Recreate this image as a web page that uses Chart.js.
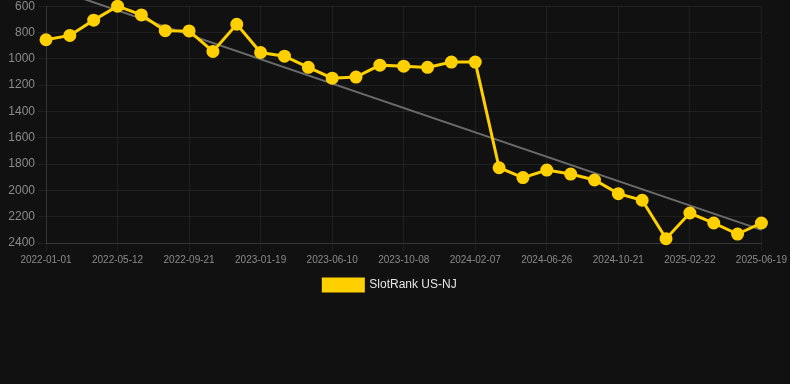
<!DOCTYPE html>
<html>
<head>
<meta charset="utf-8">
<script src="https://cdn.jsdelivr.net/npm/chart.js@4/dist/chart.umd.min.js"></script>
<style>
  html, body { margin: 0; padding: 0; background: #111111; overflow: hidden; }
  #wrap { position: relative; width: 790px; height: 305px; margin-top: -4px; }
</style>
</head>
<body>
<div id="wrap"><canvas id="c"></canvas></div>
<script>
const categories = [
  "2022-01-01","2022-02-14","2022-03-29","2022-05-12","2022-06-25","2022-08-08",
  "2022-09-21","2022-11-01","2022-12-10","2023-01-19","2023-03-06","2023-04-25",
  "2023-06-10","2023-07-20","2023-08-29","2023-10-08","2023-11-18","2023-12-28",
  "2024-02-07","2024-03-22","2024-05-05","2024-06-26","2024-08-03","2024-09-12",
  "2024-10-21","2024-12-01","2025-01-11","2025-02-22","2025-04-03","2025-05-12",
  "2025-06-19"
];
const rankValues = [
  855, 822, 706, 600, 666, 786, 788, 944, 737, 952, 980, 1065,
  1147, 1139, 1048, 1056, 1065, 1025, 1025, 1828, 1903, 1846, 1876, 1921,
  2025, 2075, 2367, 2172, 2248, 2332, 2248
];
// trend line endpoints (first and last category)
const trendValues = [447].concat(new Array(29).fill(null)).concat([2300]);
const yTicks = [600, 800, 1000, 1200, 1400, 1600, 1800, 2000, 2200, 2400];

const font = "'Liberation Sans', Arial, Helvetica, sans-serif";

new Chart(document.getElementById('c'), {
  type: 'line',
  data: {
    labels: categories,
    datasets: [
      {
        label: 'SlotRank US-NJ',
        data: rankValues,
        borderColor: '#ffd000',
        backgroundColor: '#ffd000',
        borderWidth: 3,
        pointRadius: 5,
        pointBackgroundColor: '#ffd000',
        pointBorderColor: '#ffd000',
        tension: 0,
        clip: false,
        order: 1
      },
      {
        label: 'trend',
        data: trendValues,
        borderColor: '#6b6b6b',
        backgroundColor: '#6b6b6b',
        borderWidth: 2,
        pointRadius: 0,
        spanGaps: true,
        clip: false,
        order: 2
      }
    ]
  },
  options: {
    responsive: true,
    maintainAspectRatio: false,
    animation: false,
    layout: { padding: { left: 0, top: 0, right: 10, bottom: 0 } },
    plugins: {
      legend: {
        position: 'bottom',
        labels: {
          color: '#e6e6e6',
          font: { family: font, size: 12 },
          boxWidth: 40,
          boxHeight: 12,
          filter: (item) => item.text !== 'trend'
        }
      },
      tooltip: { enabled: false }
    },
    scales: {
      x: {
        grid: { color: 'rgba(255,255,255,0.06)', tickLength: 8 },
        border: { color: 'rgba(255,255,255,0.1)' },
        ticks: {
          color: '#8a8a8a',
          font: { family: font, size: 10 },
          autoSkip: true,
          maxTicksLimit: 11,
          maxRotation: 0,
          minRotation: 0
        }
      },
      y: {
        reverse: true,
        min: yTicks[0],
        max: yTicks[yTicks.length - 1],
        afterBuildTicks: (axis) => { axis.ticks = yTicks.map(v => ({ value: v })); },
        afterFit: (axis) => { axis.width = 46; },
        grid: { color: 'rgba(255,255,255,0.06)', tickLength: 8 },
        border: { color: 'rgba(255,255,255,0.1)' },
        ticks: {
          color: '#8a8a8a',
          font: { family: font, size: 12 },
          callback: (v) => String(v)
        }
      }
    }
  }
});
</script>
</body>
</html>
